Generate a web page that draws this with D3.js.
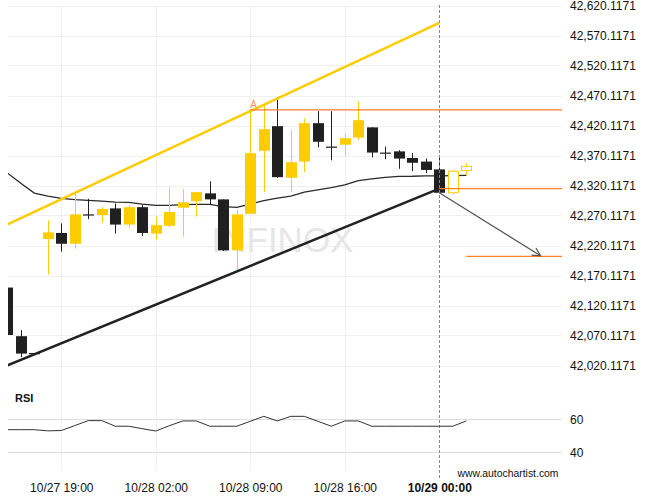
<!DOCTYPE html>
<html><head><meta charset="utf-8">
<script src="https://cdn.jsdelivr.net/npm/d3@7"></script>
<style>html,body{margin:0;padding:0;background:#fff;} svg{display:block;font-family:"Liberation Sans",Arial,sans-serif;}</style>
</head><body><svg id="c" width="650" height="500"></svg>
<script>
// ---- data ----
const times = ["10/27 15:00","10/27 16:00","10/27 17:00","10/27 18:00","10/27 19:00","10/27 20:00","10/27 21:00","10/27 22:00","10/27 23:00",
  "10/28 00:00","10/28 01:00","10/28 02:00","10/28 03:00","10/28 04:00","10/28 05:00","10/28 06:00","10/28 07:00","10/28 08:00",
  "10/28 09:00","10/28 10:00","10/28 11:00","10/28 12:00","10/28 13:00","10/28 14:00","10/28 15:00","10/28 16:00",
  "10/28 18:00","10/28 19:00","10/28 20:00","10/28 21:00","10/28 22:00","10/28 23:00","10/29 00:00","10/29 01:00","10/29 02:00"];
const open  = [42150,42069,42041,42231,42241,42223,42272,42271,42282,42255,42284,42240,42253,42283,42294,42307,42297,42212,
  42273,42378,42419,42333,42360,42424,42385,42388,42400,42417,42375,42377,42366,42360,42347,42308,42345];
const high  = [42150,42079,42041,42262,42257,42307,42298,42284,42290,42288,42288,42268,42317,42314,42309,42327,42297,42279,
  42446,42454,42464,42412,42432,42444,42444,42407,42461,42417,42385,42379,42374,42365,42368,42346,42357];
const low   = [42071,42034,42040,42172,42210,42215,42264,42258,42240,42249,42236,42230,42251,42235,42268,42288,42211,42176,
  42273,42309,42333,42309,42342,42384,42362,42370,42396,42367,42364,42348,42344,42341,42307,42305,42337];
const close = [42071,42040,42040,42242,42223,42272,42270,42281,42255,42284,42241,42254,42276,42292,42309,42297,42212,42272,
  42374,42414,42334,42359,42424,42393,42383,42399,42429,42375,42374,42365,42358,42346,42308,42344,42352];
const movingAvg = [42341,42324,42307.5,42302.5,42298.7,42296.7,42295.3,42294.2,42292.5,42292,42289.2,42287,42287,42288.3,42288.7,42288.7,
  42285,42283.7,42289.2,42295,42299,42302.5,42309,42313,42316.7,42321,42328.3,42331,42333.7,42335.3,42335.5,42336.3,42336,42336.7,42337];
const rsi = [53.7,53.7,53.7,53,53.2,56.2,59.2,59.2,55.8,55.8,54.3,52.9,56.1,59,59,55.8,55.8,55.8,58.8,61.8,59,61.8,61.8,58.8,
  55.8,59,59,55.8,55.8,55.8,55.8,55.8,55.8,55.8,59];
const lastClosed = "10/29 00:00";
const yTicks = [42020.1171,42070.1171,42120.1171,42170.1171,42220.1171,42270.1171,42320.1171,42370.1171,42420.1171,42470.1171,42520.1171,42570.1171,42620.1171];
const xTickLabels = ["10/27 19:00","10/28 02:00","10/28 09:00","10/28 16:00","10/29 00:00"];
const rsiTicks = [60,40];
const resistance = [{t:"10/27 15:00", p:42255.3},{t:"10/29 00:00", p:42591.3}];
const support    = [{t:"10/27 15:00", p:42020.3},{t:"10/29 00:00", p:42315}];
const levels = [{t:"10/28 09:00", p:42446, label:"A"},{t:"10/29 00:00", p:42315, label:""},{t:"10/29 02:00", p:42202, label:""}];
const forecast = {from:{t:"10/29 00:00", p:42308}, toIndex:39.5, toP:42203};

// ---- scales ----
const svg = d3.select("#c");
const idx = t => times.indexOf(t);
const x = d3.scaleLinear().domain([0, 41]).range([7.3, 560.8]);
const y = d3.scaleLinear().domain([42020.1171, 42620.1171]).range([365.5, 5.5]);
const ry = d3.scaleLinear().domain([40, 60]).range([452.3, 419.3]);
const L = 8, R = 562;

const defs = svg.append("defs");
defs.append("clipPath").attr("id","mainClip").append("rect").attr("x",L).attr("y",5).attr("width",R-L).attr("height",375);
defs.append("clipPath").attr("id","rsiClip").append("rect").attr("x",L).attr("y",385).attr("width",R-L).attr("height",88);

// gridlines
svg.append("g").selectAll("line").data(yTicks).join("line")
  .attr("x1",L).attr("x2",R).attr("y1",d=>Math.round(y(d))+0.5).attr("y2",d=>Math.round(y(d))+0.5)
  .attr("stroke","#f0f0f0").attr("stroke-width",1);
svg.append("g").selectAll("line").data(xTickLabels.filter(t=>t!==lastClosed)).join("line")
  .attr("x1",d=>Math.round(x(idx(d)))+0.5).attr("x2",d=>Math.round(x(idx(d)))+0.5).attr("y1",5).attr("y2",470)
  .attr("stroke","#f0f0f0").attr("stroke-width",1);
svg.append("g").selectAll("line").data(rsiTicks).join("line")
  .attr("x1",L).attr("x2",R).attr("y1",d=>Math.round(ry(d))+0.5).attr("y2",d=>Math.round(ry(d))+0.5)
  .attr("stroke","#dedede").attr("stroke-width",1);

// watermark
svg.append("text").attr("x",282.5).attr("y",252).attr("text-anchor","middle")
  .attr("font-size",35).attr("fill","#e6e6e6").text("INFINOX");

const main = svg.append("g").attr("clip-path","url(#mainClip)");

// moving average
main.append("path").datum(movingAvg)
  .attr("d", d3.line().x((d,i)=>x(i)).y(d=>y(d)))
  .attr("fill","none").attr("stroke","#2a2a2a").attr("stroke-width",1.3);

// candles
const yellow = "#ffcc00", dark = "#202020";
const lastIdx = idx(lastClosed);
const cg = main.append("g").selectAll("g").data(times).join("g");
cg.each(function(t,i){
  const g = d3.select(this);
  const cx = Math.round(x(i));
  const bull = close[i] >= open[i];
  const col = bull ? yellow : dark;
  const hollow = i > lastIdx;
  g.append("line").attr("x1",cx+0.5).attr("x2",cx+0.5).attr("y1",y(high[i])).attr("y2",y(low[i]))
    .attr("stroke",col).attr("stroke-width",1);
  const top = y(Math.max(open[i],close[i])), bot = y(Math.min(open[i],close[i]));
  const h = Math.max(1.2, bot-top);
  if (hollow) {
    g.append("rect").attr("x",cx-4.5).attr("y",top).attr("width",10).attr("height",h)
      .attr("fill","#fff").attr("stroke",col).attr("stroke-width",1);
  } else {
    g.append("rect").attr("x",cx-5).attr("y",top).attr("width",11).attr("height",h).attr("fill",col);
  }
});

// pattern lines
main.append("path").datum(resistance)
  .attr("d", d3.line().x(d=>x(idx(d.t))).y(d=>y(d.p)))
  .attr("stroke","#ffcc00").attr("stroke-width",2.5).attr("fill","none");
main.append("path").datum(support)
  .attr("d", d3.line().x(d=>x(idx(d.t))).y(d=>y(d.p)))
  .attr("stroke","#222").attr("stroke-width",2.5).attr("fill","none");

// levels
main.append("g").selectAll("line").data(levels).join("line")
  .attr("x1",d=>x(idx(d.t))).attr("x2",R).attr("y1",d=>y(d.p)).attr("y2",d=>y(d.p))
  .attr("stroke","#ff7f2a").attr("stroke-width",1.3);
svg.append("g").selectAll("text").data(levels.filter(d=>d.label)).join("text")
  .attr("x",d=>x(idx(d.t))).attr("y",d=>y(d.p)-2).attr("font-size",10).attr("fill","#f5906a").text(d=>d.label);

// forecast arrow
const x0 = x(idx(forecast.from.t)), y0 = y(forecast.from.p);
const x1 = x(forecast.toIndex), y1 = y(forecast.toP);
main.append("line").attr("x1",x0).attr("y1",y0).attr("x2",x1).attr("y2",y1).attr("stroke","#555").attr("stroke-width",1.2);
const ang = Math.atan2(y1-y0, x1-x0) + Math.PI;
const wing = a => [x1 + 9*Math.cos(ang+a), y1 + 9*Math.sin(ang+a)];
const w1 = wing(0.48), w2 = wing(-0.48);
main.append("path").attr("d",`M${w1[0]},${w1[1]}L${x1},${y1}L${w2[0]},${w2[1]}`)
  .attr("fill","none").attr("stroke","#555").attr("stroke-width",1.2);

// dashed current-time line
const xl = Math.round(x(lastIdx))+0.5;
svg.append("line").attr("x1",xl).attr("x2",xl).attr("y1",5).attr("y2",478)
  .attr("stroke","#888").attr("stroke-width",1).attr("stroke-dasharray","3,2");

// RSI pane
svg.append("text").attr("x",15).attr("y",402).attr("font-size",11).attr("font-weight","bold").attr("fill","#111").text("RSI");
svg.append("g").attr("clip-path","url(#rsiClip)").append("path").datum(rsi)
  .attr("d", d3.line().x((d,i)=>x(i)).y(d=>ry(d)))
  .attr("fill","none").attr("stroke","#333").attr("stroke-width",1);

// axes
const yAxis = svg.append("g").attr("transform",`translate(${R},0)`)
  .call(d3.axisRight(y).tickValues(yTicks).tickFormat(d3.format(",.4f")).tickSize(0).tickPadding(8));
yAxis.select(".domain").remove();
yAxis.selectAll("text").attr("font-size",12).attr("fill","#111").attr("font-family","Liberation Sans, Arial, sans-serif");

const rAxis = svg.append("g").attr("transform",`translate(${R},0)`)
  .call(d3.axisRight(ry).tickValues(rsiTicks).tickSize(0).tickPadding(8));
rAxis.select(".domain").remove();
rAxis.selectAll("text").attr("font-size",12).attr("fill","#111").attr("font-family","Liberation Sans, Arial, sans-serif");

const xAxis = svg.append("g").attr("transform","translate(0,475)")
  .call(d3.axisBottom(x).tickValues(xTickLabels.map(idx)).tickFormat(i=>times[i]).tickSize(0).tickPadding(8));
xAxis.select(".domain").remove();
xAxis.selectAll("text").attr("font-size",12).attr("fill","#111").attr("font-family","Liberation Sans, Arial, sans-serif")
  .attr("font-weight",i=>times[i]===lastClosed?"bold":"normal");

svg.append("text").attr("x",508).attr("y",477).attr("text-anchor","middle").attr("font-size",10.4).attr("fill","#111")
  .text("www.autochartist.com");
</script></body></html>
